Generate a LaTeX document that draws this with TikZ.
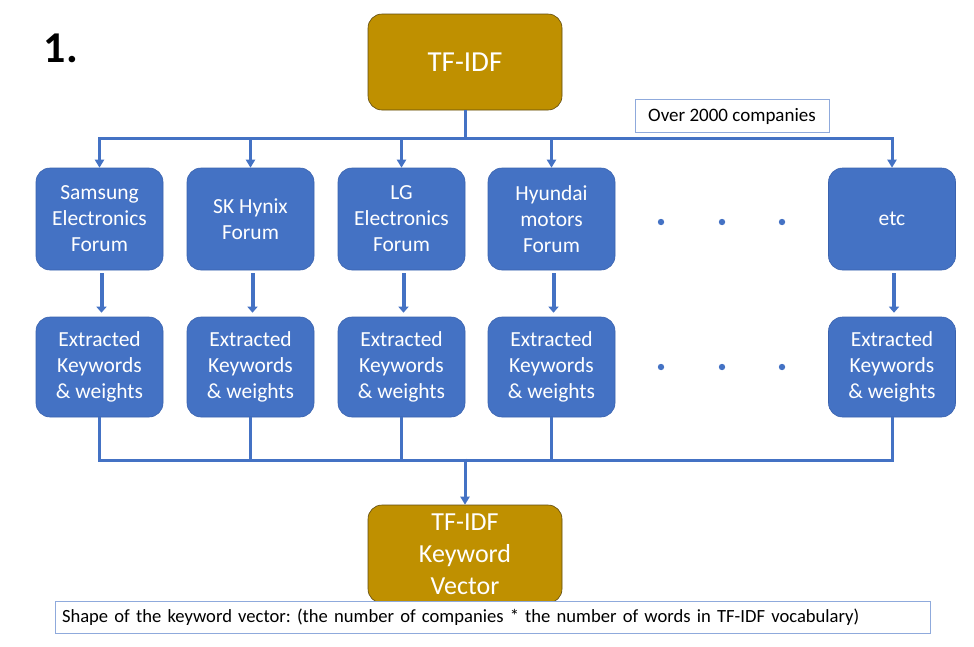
\documentclass[tikz,border=0pt]{standalone}
\usepackage{fontspec}
\setmainfont{Carlito}
\usetikzlibrary{arrows.meta}
\definecolor{boxblue}{HTML}{4472C4}
\definecolor{boxedge}{HTML}{3A62AE}
\definecolor{gold}{HTML}{BF9000}
\definecolor{goldedge}{HTML}{5E4A10}
\definecolor{noteedge}{HTML}{8FAADC}
\frenchspacing
\begin{document}
\begin{tikzpicture}[x=1pt,y=-1pt,
  forum/.style={draw=boxedge,line width=0.6pt,fill=boxblue,rounded corners=14pt,
    minimum width=127pt,minimum height=102pt,inner sep=0pt,text=white,align=center,
    font=\fontsize{21.5}{26}\selectfont},
  goldbox/.style={draw=goldedge,line width=0.6pt,fill=gold,rounded corners=14pt,
    minimum width=194pt,inner sep=0pt,text=white,align=center},
  note/.style={draw=noteedge,line width=0.8pt,fill=white,inner sep=0pt,
    font=\fontsize{19}{22}\selectfont},
  link/.style={draw=boxblue,line width=3pt},
  feed/.style={link,-{Triangle[length=8pt,width=9pt]}},
  pass/.style={draw=boxblue,line width=4pt,-{Triangle[length=6pt,width=10pt]}}]
\useasboundingbox (0,0) rectangle (974,646);
\node[font=\fontsize{44}{50}\bfseries] (num) at (61,48) {1.};
\node[goldbox,minimum height=96pt,font=\fontsize{29}{34}\selectfont] (tfidf) at (465,62) {TF-IDF};
\node[note,minimum width=194pt,minimum height=33pt] (over) at (732,116) {Over 2000 companies};
% forums
\node[forum] (f1) at (99.5,219) {Samsung\\Electronics\\Forum};
\node[forum] (f2) at (250.5,219) {SK Hynix\\Forum};
\node[forum] (f3) at (401.5,219) {LG\\Electronics\\Forum};
\node[forum] (f4) at (551.5,219) {Hyundai\\motors\\Forum};
\node[forum] (f5) at (892,219) {etc};
% keywords
\node[forum,minimum height=100pt] (k1) at (99.5,367) {Extracted\\Keywords\\\& weights};
\node[forum,minimum height=100pt] (k2) at (250.5,367) {Extracted\\Keywords\\\& weights};
\node[forum,minimum height=100pt] (k3) at (401.5,367) {Extracted\\Keywords\\\& weights};
\node[forum,minimum height=100pt] (k4) at (551.5,367) {Extracted\\Keywords\\\& weights};
\node[forum,minimum height=100pt] (k5) at (892,367) {Extracted\\Keywords\\\& weights};
\foreach \x in {661,722,782} {
  \fill[boxblue] (\x,222) circle (3.2pt);
  \fill[boxblue] (\x,367) circle (3.2pt);
}
\node[goldbox,minimum height=98pt,font=\fontsize{26}{32}\selectfont] (vec) at (465,554) {TF-IDF\\Keyword\\Vector};
\node[note,minimum width=875pt,minimum height=32pt,text width=861pt,align=left,
  font=\fontsize{18.6}{22}\selectfont] (shape) at (492.5,617)
  {Shape of the keyword vector: (the number of companies * the number of words in TF-IDF vocabulary)};
% connectors
\coordinate (split) at (465,138);
\coordinate (merge) at (465,460);
\draw[link] (tfidf.south) -- (split);
\draw[link] ([xshift=-1.5pt]f1 |- split) -- ([xshift=1.5pt]f5 |- split);
\draw[link] ([xshift=-1.5pt]k1 |- merge) -- ([xshift=1.5pt]k5 |- merge);
\foreach \i in {1,...,5} {
  \draw[feed] (f\i |- split) -- (f\i.north);
  \draw[pass] ([xshift=2pt,yshift=-3pt]f\i.south) -- ([xshift=2pt,yshift=4pt]k\i.north);
  \draw[link] (k\i.south) -- (k\i |- merge);
}
\draw[feed] ([yshift=1.5pt]merge) -- (vec.north);
\end{tikzpicture}
\end{document}
